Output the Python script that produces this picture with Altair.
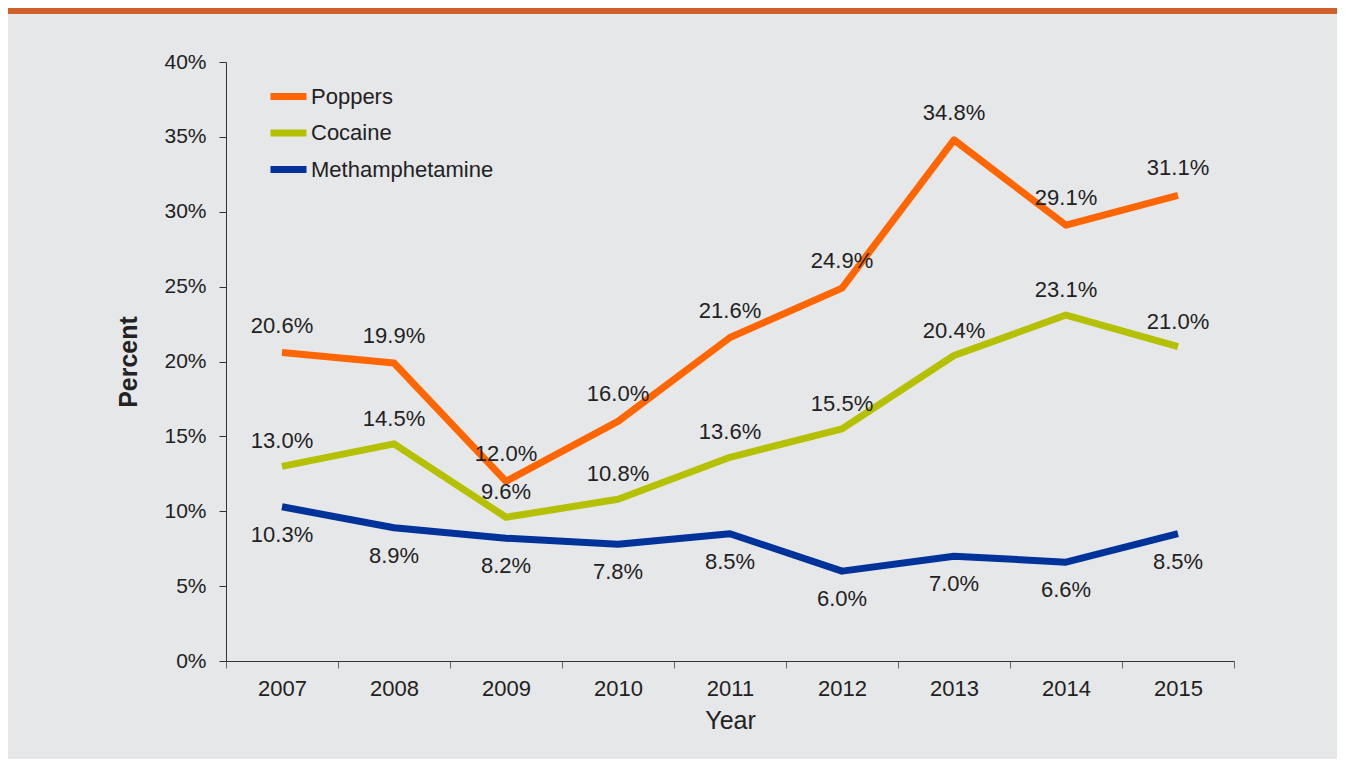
import altair as alt
import pandas as pd

years = ["2007", "2008", "2009", "2010", "2011", "2012", "2013", "2014", "2015"]
series_names = ["Poppers", "Cocaine", "Methamphetamine"]
poppers = [20.6, 19.9, 12.0, 16.0, 21.6, 24.9, 34.8, 29.1, 31.1]
cocaine = [13.0, 14.5, 9.6, 10.8, 13.6, 15.5, 20.4, 23.1, 21.0]
meth = [10.3, 8.9, 8.2, 7.8, 8.5, 6.0, 7.0, 6.6, 8.5]
colors = ["#ff6600", "#b5c100", "#003399"]

rows = []
for name, vals in zip(series_names, [poppers, cocaine, meth]):
    for y, v in zip(years, vals):
        rows.append({"Year": y, "Drug": name, "Percent": v,
                     "Label": f"{v:.1f}%"})
df = pd.DataFrame(rows)

FONT = "Liberation Sans"
FS = 22

x_enc = alt.X(
    "Year:O",
    sort=years,
    scale=alt.Scale(type="band", paddingInner=0, paddingOuter=0),
    bandPosition=0.5,
    axis=alt.Axis(
        title="Year", tickBand="extent", labelAngle=0,
        labelFontSize=FS, labelColor="#222222", labelPadding=10,
        titleFontSize=25, titleFontWeight="normal", titleColor="#222222",
        titlePadding=9, tickSize=7, tickColor="#666666",
        domainColor="#333333", grid=False,
    ),
)
y_enc = alt.Y(
    "Percent:Q",
    scale=alt.Scale(domain=[0, 40], nice=False),
    axis=alt.Axis(
        title="Percent", values=[0, 5, 10, 15, 20, 25, 30, 35, 40],
        labelExpr="datum.value + '%'",
        labelFontSize=21, labelColor="#222222", labelPadding=13,
        titleFontSize=25, titleFontWeight="bold", titleColor="#222222",
        titlePadding=22, tickSize=7, tickColor="#333333",
        domainColor="#333333", grid=False,
    ),
)
color_enc = alt.Color(
    "Drug:N",
    sort=series_names,
    scale=alt.Scale(domain=series_names, range=colors),
    legend=alt.Legend(
        title=None, orient="none", legendX=41, legendY=13,
        symbolType="stroke", symbolSize=1296, symbolStrokeWidth=7,
        labelFontSize=FS, labelColor="#222222", labelOffset=1,
        rowPadding=0.5, labelFont=FONT, labelLimit=0,
    ),
)

lines = alt.Chart(df).mark_line(strokeWidth=7, strokeJoin="round").encode(
    x=x_enc, y=y_enc, color=color_enc,
    detail="Drug:N",
)

def labels(name, dy):
    return alt.Chart(df).transform_filter(
        alt.datum.Drug == name
    ).mark_text(fontSize=FS, color="#222222", dy=dy, font=FONT).encode(
        x=alt.X("Year:O", sort=years, bandPosition=0.5),
        y=alt.Y("Percent:Q"),
        text="Label:N",
    )

top_bar = alt.Chart(pd.DataFrame({"k": [0]})).mark_rect(color="#d0602a").encode(
    x=alt.value(-218), x2=alt.value(1111), y=alt.value(-54), y2=alt.value(-48)
)

chart = alt.layer(
    top_bar, lines,
    labels("Poppers", -27), labels("Cocaine", -25), labels("Methamphetamine", 28),
).properties(
    width=1008, height=599,
    background="#e6e7e9",
    padding={"left": 218, "top": 54, "right": 103, "bottom": 98},
    autosize=alt.AutoSizeParams(type="none"),
).configure(
    font=FONT,
    view=alt.ViewConfig(stroke="transparent"),
)

chart.save("out.html", embed_options={"renderer": "svg", "actions": False})
